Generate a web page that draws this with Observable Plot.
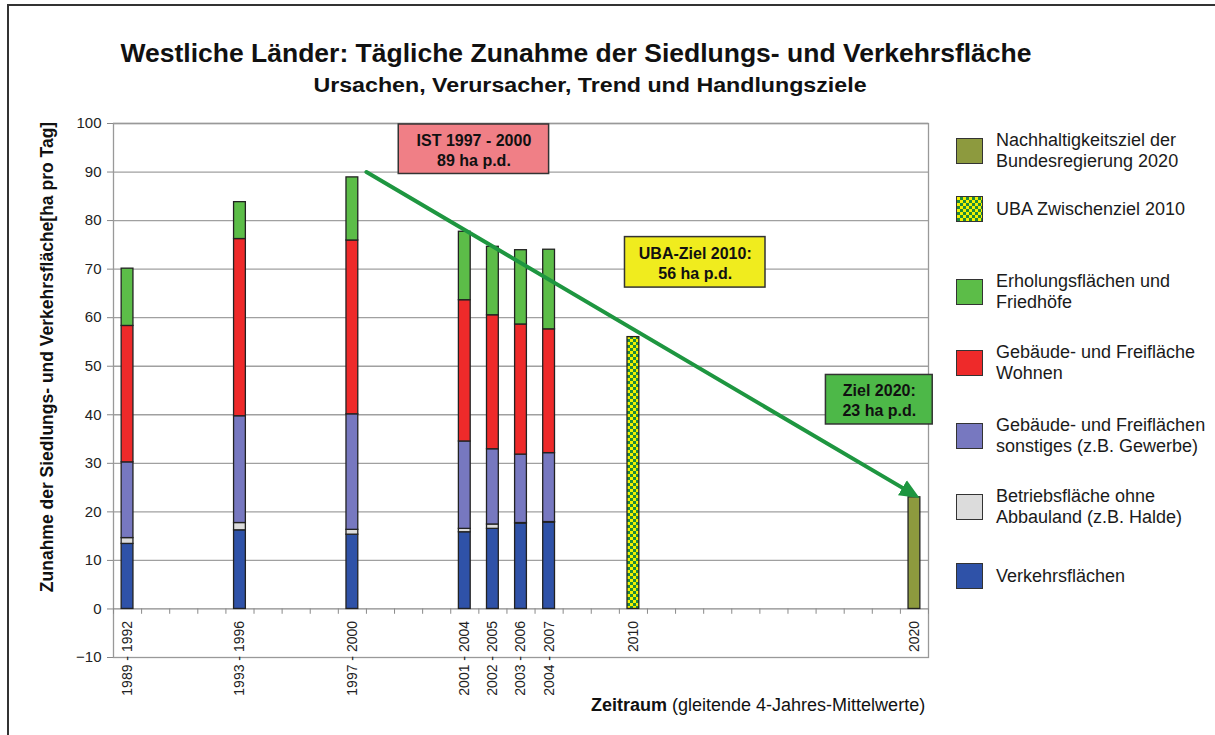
<!DOCTYPE html>
<html>
<head>
<meta charset="utf-8">
<script src="https://cdn.jsdelivr.net/npm/d3@7"></script>
<script src="https://cdn.jsdelivr.net/npm/@observablehq/plot@0.6"></script>
<style>
  body { margin: 0; background: #fff; font-family: "Liberation Sans", Arial, sans-serif; color: #111; }
  #wrap { position: relative; width: 1215px; height: 735px; overflow: hidden; }
  #border { position: absolute; left: 7px; top: 4px; width: 1300px; height: 900px; border-left: 2px solid #333; border-top: 2px solid #333; }
  #chart { position: absolute; left: 0; top: 0; }
  .title { position: absolute; left: 0; width: 1152px; text-align: center; font-weight: bold; white-space: nowrap; line-height: 1.15; }
  #t1 { top: 38px; font-size: 26.5px; }
  #t2 { top: 74px; font-size: 20px; left: 14px; transform: scaleX(1.16); }
  #ylab { position: absolute; left: 47px; top: 357px; transform: translate(-50%, -50%) rotate(-90deg); font-weight: bold; font-size: 17.5px; white-space: nowrap; }
  #xlab { position: absolute; left: 591px; top: 695px; font-size: 18px; white-space: nowrap; }
  #legend { position: absolute; left: 956px; top: 0; }
  .item { position: absolute; left: 0; display: flex; align-items: center; width: 260px; }
  .sw { width: 27px; height: 26px; box-sizing: border-box; border: 1.5px solid #333; flex: none; }
  .lt { margin-left: 13px; font-size: 18px; line-height: 21px; white-space: nowrap; color: #1a1a1a; }
</style>
</head>
<body>
<div id="wrap">
  <div id="border"></div>
  <div id="chart"></div>
  <div class="title" id="t1">Westliche Länder: Tägliche Zunahme der Siedlungs- und Verkehrsfläche</div>
  <div class="title" id="t2">Ursachen, Verursacher, Trend und Handlungsziele</div>
  <div id="ylab">Zunahme der Siedlungs- und Verkehrsfläche[ha pro Tag]</div>
  <div id="xlab"><b>Zeitraum</b> (gleitende 4-Jahres-Mittelwerte)</div>
  <div id="legend"></div>
</div>
<script>
// ---- Data ----
const periods = ["1989 - 1992", "1993 - 1996", "1997 - 2000", "2001 - 2004", "2002 - 2005", "2003 - 2006", "2004 - 2007"];
const endYears = [1992, 1996, 2000, 2004, 2005, 2006, 2007];
const verkehr   = [13.4, 16.2, 15.3, 15.8, 16.5, 17.6, 17.8];
const betrieb   = [1.2, 1.5, 1.0, 0.7, 0.9, 0.1, 0.1];
const sonstiges = [15.6, 22.0, 23.8, 18.0, 15.5, 14.1, 14.2];
const wohnen    = [28.1, 36.5, 35.8, 29.1, 27.6, 26.8, 25.5];
const erholung  = [11.8, 7.6, 13.0, 14.1, 14.1, 15.3, 16.4];

const targetLabels = ["2010", "2020"];
const targetYears = [2010, 2020];
const targetValues = [56, 23];

const trendYears = [2000.5, 2020];
const trendValues = [90, 23.5];

const yTicks = [-10, 0, 10, 20, 30, 40, 50, 60, 70, 80, 90, 100];

const annotLines = [["IST 1997 - 2000", "89 ha p.d."], ["UBA-Ziel 2010:", "56 ha p.d."], ["Ziel 2020:", "23 ha p.d."]];
const annotX1 = [2001.65, 2009.7, 2016.85];
const annotX2 = [2007.0, 2014.7, 2020.65];
const annotY1 = [89.6, 66.2, 38.0];
const annotY2 = [99.8, 76.6, 48.2];
const annotFill = ["#f07f86", "#f0ec1e", "#4db848"];

const legendLabels = [
  "Nachhaltigkeitsziel der<br>Bundesregierung 2020",
  "UBA Zwischenziel 2010",
  "Erholungsflächen und<br>Friedhöfe",
  "Gebäude- und Freifläche<br>Wohnen",
  "Gebäude- und Freiflächen<br>sonstiges (z.B. Gewerbe)",
  "Betriebsfläche ohne<br>Abbauland (z.B. Halde)",
  "Verkehrsflächen"
];

// ---- Styles ----
const colBlue = "#2f52a8", colGray = "#dcdcdc", colPurple = "#7778c0", colRed = "#ee2a2a", colGreen = "#5cbd48", colOlive = "#8d9a3e";
const checkerGreen = "#1f8a3b", checkerYellow = "#f2f200";
const halfW = 0.21;

const seriesList = [
  {name: "Verkehrsflächen", values: verkehr, color: colBlue},
  {name: "Betriebsfläche", values: betrieb, color: colGray},
  {name: "Sonstiges", values: sonstiges, color: colPurple},
  {name: "Wohnen", values: wohnen, color: colRed},
  {name: "Erholung", values: erholung, color: colGreen}
];

const segs = [];
endYears.forEach((yr, i) => {
  let base = 0;
  for (const s of seriesList) {
    const v = s.values[i];
    segs.push({year: yr, y1: base, y2: base + v, color: s.color});
    base += v;
  }
});

const targets = targetYears.map((y, i) => ({year: y, value: targetValues[i], label: targetLabels[i]}));
const xLabels = [...endYears.map((y, i) => ({year: y, label: periods[i]})), ...targets.map(d => ({year: d.year, label: d.label}))];
const trend = trendYears.map((x, i) => ({x, y: trendValues[i]}));
const annots = annotLines.map((l, i) => ({x1: annotX1[i], x2: annotX2[i], y1: annotY1[i], y2: annotY2[i], fill: annotFill[i], text: l.join("\n")}));
const boundaries = d3.range(1991.5, 2021, 1);

const arrowMarker = (color) => {
  const m = d3.create("svg:marker")
    .attr("viewBox", "-5 -5 10 10")
    .attr("markerUnits", "userSpaceOnUse")
    .attr("markerWidth", 20).attr("markerHeight", 20)
    .attr("refX", 2).attr("orient", "auto");
  m.append("path").attr("d", "M-5,-4.4L5,0L-5,4.4Z").attr("fill", color).attr("stroke", "none");
  return m.node();
};

const fontFam = "Liberation Sans, Arial, sans-serif";

const chart = Plot.plot({
  width: 1215, height: 735,
  marginLeft: 113, marginRight: 287, marginTop: 123, marginBottom: 78,
  style: {fontFamily: fontFam, background: "transparent", color: "#222"},
  x: {type: "linear", domain: [1991.5, 2020.5], axis: null},
  y: {domain: [-10, 100], axis: null},
  marks: [
    Plot.gridY(yTicks.filter(t => t > 0), {stroke: "#a0a0a0", strokeOpacity: 1, strokeWidth: 1.3}),
    Plot.frame({stroke: "#999", strokeWidth: 1.3}),
    Plot.ruleY([0], {stroke: "#8a8a8a", strokeWidth: 1.3}),
    Plot.ruleX(boundaries, {y1: 0, y2: -1.1, stroke: "#8a8a8a"}),
    Plot.axisY(yTicks, {tickSize: 6, tickPadding: 6, fontSize: 15, stroke: "#888", fill: "#222"}),
    Plot.rect(segs, {x1: d => d.year - halfW, x2: d => d.year + halfW, y1: "y1", y2: "y2", fill: "color", stroke: "#222", strokeWidth: 1.3}),
    Plot.rect(targets.filter(d => d.year === 2010), {x1: d => d.year - halfW, x2: d => d.year + halfW, y1: 0, y2: "value", fill: "url(#checker)", stroke: "#222", strokeWidth: 1.3}),
    Plot.rect(targets.filter(d => d.year === 2020), {x1: d => d.year - halfW, x2: d => d.year + halfW, y1: 0, y2: "value", fill: colOlive, stroke: "#222", strokeWidth: 1.3}),
    Plot.line(trend, {x: "x", y: "y", stroke: "#1e9640", strokeWidth: 4, markerEnd: arrowMarker}),
    Plot.rect(annots, {x1: "x1", x2: "x2", y1: "y1", y2: "y2", fill: "fill", stroke: "#333", strokeWidth: 1.5}),
    Plot.text(annots, {x: d => (d.x1 + d.x2) / 2, y: d => (d.y1 + d.y2) / 2, text: "text", fontWeight: "bold", fontSize: 16, lineHeight: 1.25, fill: "#111"}),
    Plot.text(xLabels, {x: "year", y: 0, dy: 12, text: "label", rotate: -90, textAnchor: "end", fontSize: 14, fill: "#222"})
  ]
});

const defs = d3.select(chart).insert("defs", ":first-child");
const pat = defs.append("pattern").attr("id", "checker").attr("patternUnits", "userSpaceOnUse").attr("width", 6).attr("height", 6);
pat.append("rect").attr("width", 6).attr("height", 6).attr("fill", checkerYellow);
pat.append("rect").attr("width", 3).attr("height", 3).attr("fill", checkerGreen);
pat.append("rect").attr("x", 3).attr("y", 3).attr("width", 3).attr("height", 3).attr("fill", checkerGreen);

document.getElementById("chart").appendChild(chart);

// ---- Legend ----
const legendSwatch = [
  `background:${colOlive}`,
  `background: repeating-conic-gradient(${checkerGreen} 0 25%, ${checkerYellow} 0 50%) 0 0/6px 6px`,
  `background:${colGreen}`,
  `background:${colRed}`,
  `background:${colPurple}`,
  `background:${colGray}`,
  `background:${colBlue}`
];
const legendTop = [138, 196, 279, 350, 423, 494, 563];
const leg = document.getElementById("legend");
legendLabels.forEach((lab, i) => {
  const it = document.createElement("div");
  it.className = "item";
  it.style.top = (legendTop[i] + 13) + "px";
  it.style.transform = "translateY(-50%)";
  it.innerHTML = `<div class="sw" style="${legendSwatch[i]}"></div><div class="lt">${lab}</div>`;
  leg.appendChild(it);
});
</script>
</body>
</html>
